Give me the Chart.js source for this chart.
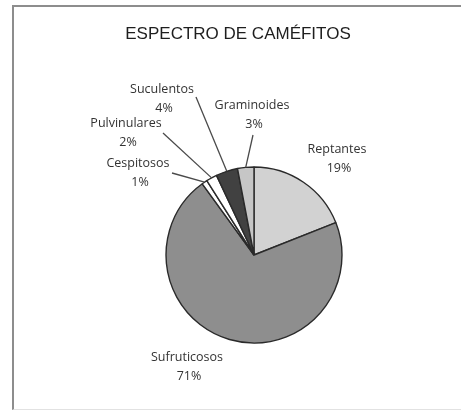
<!DOCTYPE html>
<html>
<head>
<meta charset="utf-8">
<script src="https://cdn.jsdelivr.net/npm/chart.js@4"></script>
<style>
  html, body { margin: 0; padding: 0; background: #fff; }
  .wrap { position: relative; width: 461px; height: 411px; }
  .frame {
    position: absolute; left: 12px; top: 5px; right: 0; height: 402px;
    border-left: 2px solid #8d8d8d; border-top: 2px solid #8d8d8d;
    border-bottom: 1px solid #e2e2e2;
  }
  canvas { position: absolute; left: 0; top: 0; }
</style>
</head>
<body>
<div class="wrap">
  <div class="frame"></div>
  <canvas id="pieChart" width="461" height="411"></canvas>
</div>
<script>
const TITLE = 'ESPECTRO DE CAMÉFITOS';
const labels = ['Reptantes', 'Sufruticosos', 'Cespitosos', 'Pulvinulares', 'Suculentos', 'Graminoides'];
const values = [19, 71, 1, 2, 4, 3];
const colors = ['#d2d2d2', '#8e8e8e', '#ffffff', '#ffffff', '#414141', '#c6c6c6'];

// label placement, offsets from pie centre (px); lx/ly = leader line start, null = no line
const labelPos = [
  { dx: 83, dy: -106, lx: null },
  { dx: -67, dy: 102, lx: null },
  { dx: -116, dy: -92, lx: -82, ly: -82 },
  { dx: -128, dy: -132, lx: -91, ly: -122 },
  { dx: -92, dy: -166, lx: -58, ly: -158 },
  { dx: -2, dy: -150, lx: -1, ly: -120 },
];

const labelPlugin = {
  id: 'pieLabels',
  afterDraw(chart) {
    const ctx = chart.ctx;
    const arcs = chart.getDatasetMeta(0).data;
    ctx.save();
    // title
    ctx.fillStyle = '#1e1e1e';
    ctx.font = '17px "Liberation Sans", Arial, sans-serif';
    ctx.textAlign = 'center';
    ctx.textBaseline = 'middle';
    ctx.fillText(TITLE, 238, 34);

    ctx.font = '12.5px "Open Sans", sans-serif';
    arcs.forEach((arc, i) => {
      const { x, y, startAngle, endAngle, outerRadius } = arc.getProps(['x', 'y', 'startAngle', 'endAngle', 'outerRadius'], true);
      const p = labelPos[i];
      const mid = (startAngle + endAngle) / 2;
      if (p.lx !== null) {
        ctx.beginPath();
        ctx.moveTo(x + p.lx, y + p.ly);
        ctx.lineTo(x + Math.cos(mid) * outerRadius, y + Math.sin(mid) * outerRadius);
        ctx.strokeStyle = '#4a4a4a';
        ctx.lineWidth = 1.3;
        ctx.stroke();
      }
      ctx.fillStyle = '#333';
      ctx.fillText(labels[i], x + p.dx, y + p.dy);
      ctx.fillText(values[i] + '%', x + p.dx + 2, y + p.dy + 19);
    });
    ctx.restore();
  },
};

new Chart(document.getElementById('pieChart'), {
  type: 'pie',
  data: {
    labels,
    datasets: [{
      data: values,
      backgroundColor: colors,
      borderColor: '#2a2a2a',
      borderWidth: 1.4,
      radius: 88,
    }],
  },
  options: {
    responsive: false,
    animation: false,
    layout: { padding: { left: 166, right: 119, top: 167, bottom: 68 } },
    plugins: {
      legend: { display: false },
      tooltip: { enabled: false },
      title: { display: false },
    },
  },
  plugins: [labelPlugin],
});
</script>
</body>
</html>
